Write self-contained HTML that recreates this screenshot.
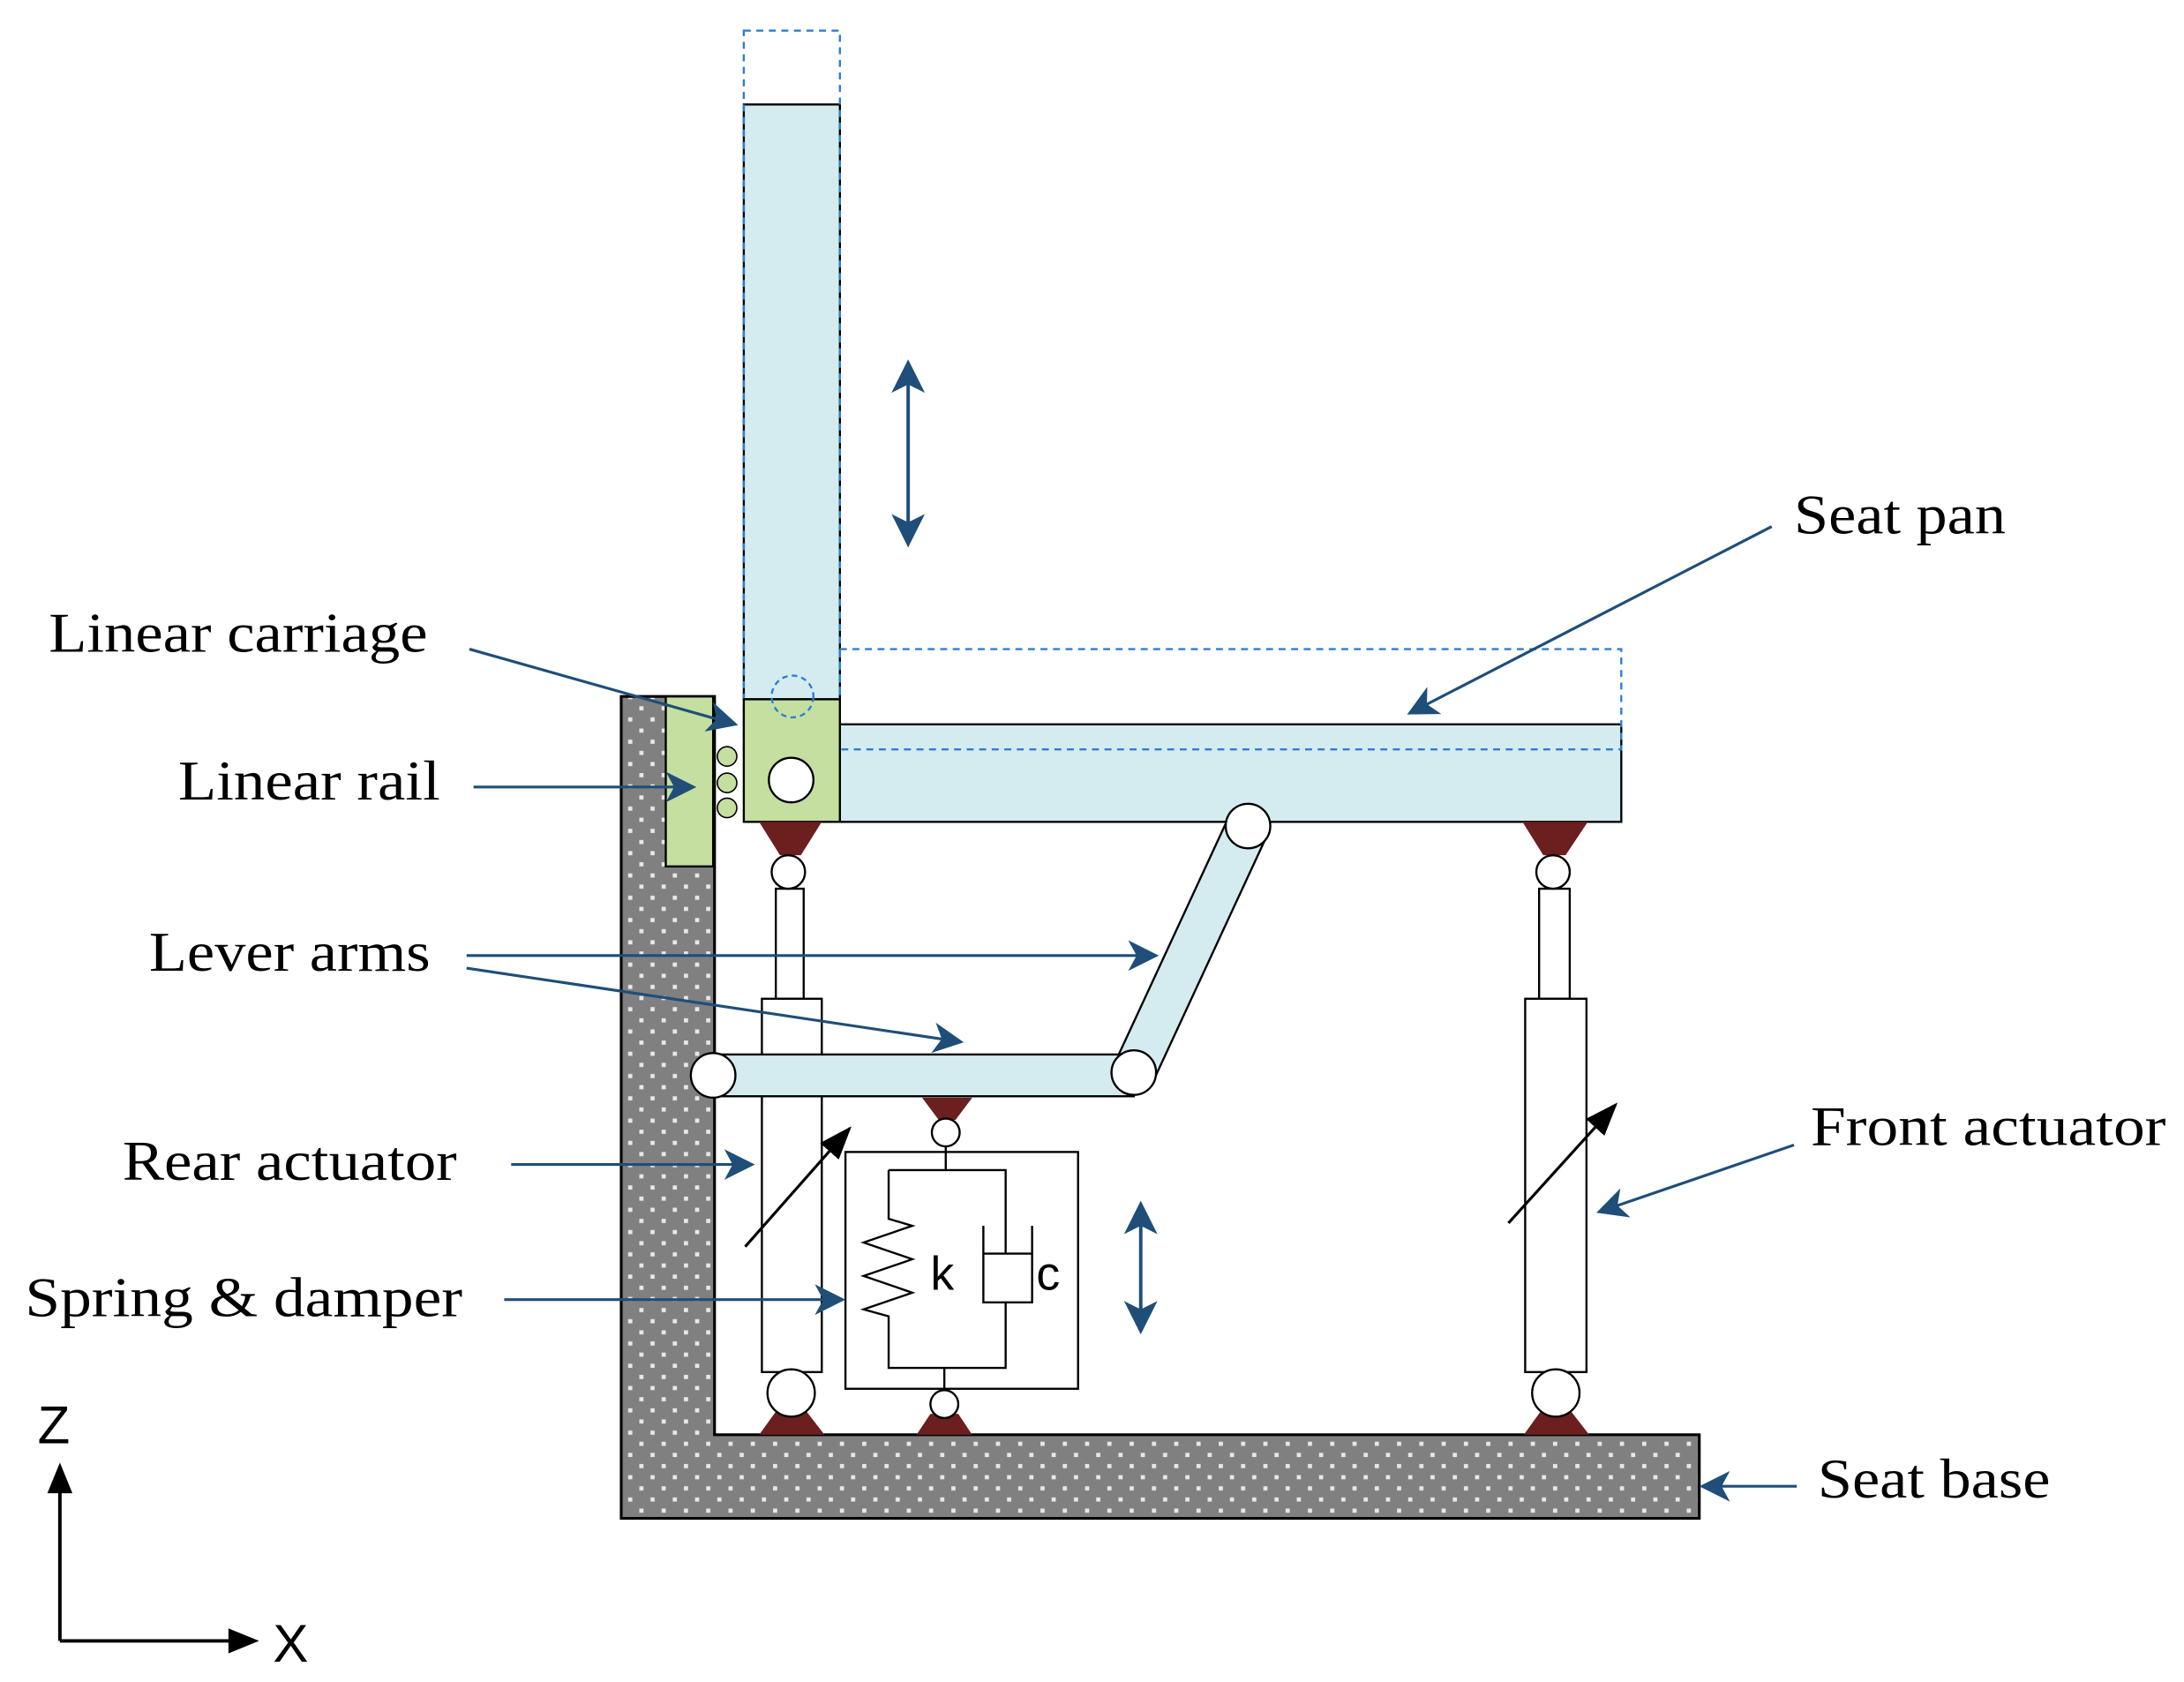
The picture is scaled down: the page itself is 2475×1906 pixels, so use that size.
<!DOCTYPE html>
<html><head><style>html,body{margin:0;padding:0;background:#fff}svg{display:block}</style></head><body>
<svg width="2475" height="1906" viewBox="0 0 1568 1207.5" preserveAspectRatio="none" xmlns="http://www.w3.org/2000/svg">
<defs>
<pattern id="dots" width="16" height="16" patternUnits="userSpaceOnUse"><rect width="16" height="16" fill="#808080"/><rect x="3" y="3" width="3" height="3" fill="#e8e8e8"/><rect x="11" y="11" width="3" height="3" fill="#e8e8e8"/></pattern>
<marker id="bb" markerWidth="22" markerHeight="22" refX="20" refY="11" orient="auto" markerUnits="userSpaceOnUse" viewBox="0 0 22 22"><path d="M0,0 L22,11 L0,22 L6,11z" fill="#1f4e79"/></marker>
<marker id="ka" markerWidth="24" markerHeight="24" refX="22" refY="12" orient="auto" markerUnits="userSpaceOnUse" viewBox="0 0 24 24"><path d="M0,3 L24,12 L0,21z" fill="#000"/></marker>
</defs>
<path d="M446,500 H513 V1030 H1220 V1090 H446 Z" fill="url(#dots)" stroke="#000" stroke-width="2"/>
<rect x="534" y="75" width="69" height="427" fill="#d4ecf0" stroke="#000" stroke-width="1.5"/>
<rect x="534" y="22" width="69" height="518" fill="none" stroke="#2a7fd4" stroke-width="1.5" stroke-dasharray="5,4"/>
<rect x="603" y="520" width="561" height="70" fill="#d4ecf0" stroke="#000" stroke-width="1.5"/>
<rect x="603" y="466" width="561" height="72" fill="none" stroke="#2a7fd4" stroke-width="1.5" stroke-dasharray="5,4"/>
<rect x="534" y="502" width="69" height="88" fill="#c4dfa0" stroke="#000" stroke-width="1.5"/>
<circle cx="568" cy="560" r="16" fill="#fff" stroke="#000" stroke-width="1.5"/>
<circle cx="569" cy="500" r="15" fill="none" stroke="#2a7fd4" stroke-width="1.5" stroke-dasharray="4,3"/>
<rect x="478" y="500" width="34" height="122" fill="#c4dfa0" stroke="#000" stroke-width="1.5"/>
<circle cx="522" cy="543" r="7" fill="#c4dfa0" stroke="#000"/><circle cx="522" cy="562" r="7" fill="#c4dfa0" stroke="#000"/><circle cx="522" cy="580" r="7" fill="#c4dfa0" stroke="#000"/>
<polygon points="545,590 590,590 575,614 560,614" fill="#6b1f1f"/>
<rect x="557" y="638" width="20" height="79" fill="#fff" stroke="#000" stroke-width="1.5"/>
<rect x="547" y="717" width="43" height="268" fill="#fff" stroke="#000" stroke-width="1.5"/>
<circle cx="566" cy="626" r="12" fill="#fff" stroke="#000" stroke-width="1.5"/>
<polygon points="558,1012 578,1012 592,1030 545,1030" fill="#6b1f1f"/>
<circle cx="568" cy="1000" r="17" fill="#fff" stroke="#000" stroke-width="1.5"/>
<polygon points="1093,590 1140,590 1124,614 1108,614" fill="#6b1f1f"/>
<rect x="1105" y="638" width="22" height="79" fill="#fff" stroke="#000" stroke-width="1.5"/>
<rect x="1095" y="717" width="44" height="268" fill="#fff" stroke="#000" stroke-width="1.5"/>
<circle cx="1115" cy="626" r="12" fill="#fff" stroke="#000" stroke-width="1.5"/>
<polygon points="1107,1012 1127,1012 1141,1030 1094,1030" fill="#6b1f1f"/>
<circle cx="1117" cy="1000" r="17" fill="#fff" stroke="#000" stroke-width="1.5"/>
<line x1="896" y1="593" x2="814" y2="770" stroke="#000" stroke-width="32"/>
<line x1="896" y1="593" x2="814" y2="770" stroke="#d4ecf0" stroke-width="29"/>
<rect x="512" y="757" width="302" height="30" fill="#d4ecf0" stroke="#000" stroke-width="1.5"/>
<circle cx="512" cy="772" r="16" fill="#fff" stroke="#000" stroke-width="1.5"/>
<circle cx="814" cy="770" r="16" fill="#fff" stroke="#000" stroke-width="1.5"/>
<circle cx="896" cy="593" r="16" fill="#fff" stroke="#000" stroke-width="1.5"/>
<polygon points="662,788 698,788 686,804 674,804" fill="#6b1f1f"/>
<circle cx="679" cy="813" r="10" fill="#fff" stroke="#000" stroke-width="1.5"/>
<rect x="607" y="827" width="167" height="170" fill="#fff" stroke="#000" stroke-width="1.5"/>
<path d="M679,823 V840 M638,840 H722 V900 M722,935 V982 H638 V945 L620,940 L655,928 L620,916 L655,904 L620,892 L655,880 L638,875 V840 M678,982 V997" fill="none" stroke="#000" stroke-width="1.5"/>
<path d="M706,880 V935 H741 V880 M706,900 H741" fill="none" stroke="#000" stroke-width="1.5"/>
<polygon points="668,1015 688,1015 698,1030 658,1030" fill="#6b1f1f"/>
<circle cx="678" cy="1008" r="10" fill="#fff" stroke="#000" stroke-width="1.5"/>
<text x="668" y="926" font-family="Liberation Sans, sans-serif" font-size="34" fill="#000">k</text>
<text x="744" y="926" font-family="Liberation Sans, sans-serif" font-size="34" fill="#000">c</text>
<line x1="535" y1="895" x2="610" y2="810" stroke="#000" stroke-width="2" marker-end="url(#ka)"/>
<line x1="1083" y1="878" x2="1160" y2="793" stroke="#000" stroke-width="2" marker-end="url(#ka)"/>
<line x1="652" y1="275" x2="652" y2="376" stroke="#1f4e79" stroke-width="2.5"/>
<path d="M652,258 L664,282 L652,276 L640,282z M652,393 L664,369 L652,375 L640,369z" fill="#1f4e79"/>
<line x1="819" y1="878" x2="819" y2="942" stroke="#1f4e79" stroke-width="2.5"/>
<path d="M819,862 L831,886 L819,880 L807,886z M819,958 L831,934 L819,940 L807,934z" fill="#1f4e79"/>
<g stroke="#1f4e79" stroke-width="2" fill="none" marker-end="url(#bb)">
<line x1="337" y1="466" x2="528" y2="520"/>
<line x1="340" y1="565" x2="498" y2="565"/>
<line x1="335" y1="686" x2="830" y2="686"/>
<line x1="335" y1="695" x2="690" y2="748"/>
<line x1="367" y1="836" x2="540" y2="836"/>
<line x1="362" y1="933" x2="605" y2="933"/>
<line x1="1272" y1="378" x2="1012" y2="512"/>
<line x1="1288" y1="822" x2="1148" y2="870"/>
<line x1="1290" y1="1067" x2="1222" y2="1067"/>
</g>
<g font-family="Liberation Serif, serif" font-size="40" fill="#000" lengthAdjust="spacingAndGlyphs">
<text x="35" y="468" textLength="272" lengthAdjust="spacingAndGlyphs">Linear carriage</text>
<text x="128" y="574" textLength="188" lengthAdjust="spacingAndGlyphs">Linear rail</text>
<text x="107" y="697" textLength="202" lengthAdjust="spacingAndGlyphs">Lever arms</text>
<text x="88" y="847" textLength="240" lengthAdjust="spacingAndGlyphs">Rear actuator</text>
<text x="18" y="945" textLength="314" lengthAdjust="spacingAndGlyphs">Spring &amp; damper</text>
<text x="1288" y="383" textLength="152" lengthAdjust="spacingAndGlyphs">Seat pan</text>
<text x="1300" y="822" textLength="255" lengthAdjust="spacingAndGlyphs">Front actuator</text>
<text x="1305" y="1075" textLength="167" lengthAdjust="spacingAndGlyphs">Seat base</text>
</g>
<line x1="43" y1="1178" x2="43" y2="1062" stroke="#000" stroke-width="2.5"/>
<path d="M43,1050 L52,1072 L34,1072z" fill="#000"/>
<line x1="43" y1="1178" x2="172" y2="1178" stroke="#000" stroke-width="2.5"/>
<path d="M186,1178 L164,1169 L164,1187z" fill="#000"/>
<text x="27" y="1036" font-family="Liberation Sans, sans-serif" font-size="38">Z</text>
<text x="196" y="1193" font-family="Liberation Sans, sans-serif" font-size="38">X</text>
</svg>
</body></html>
